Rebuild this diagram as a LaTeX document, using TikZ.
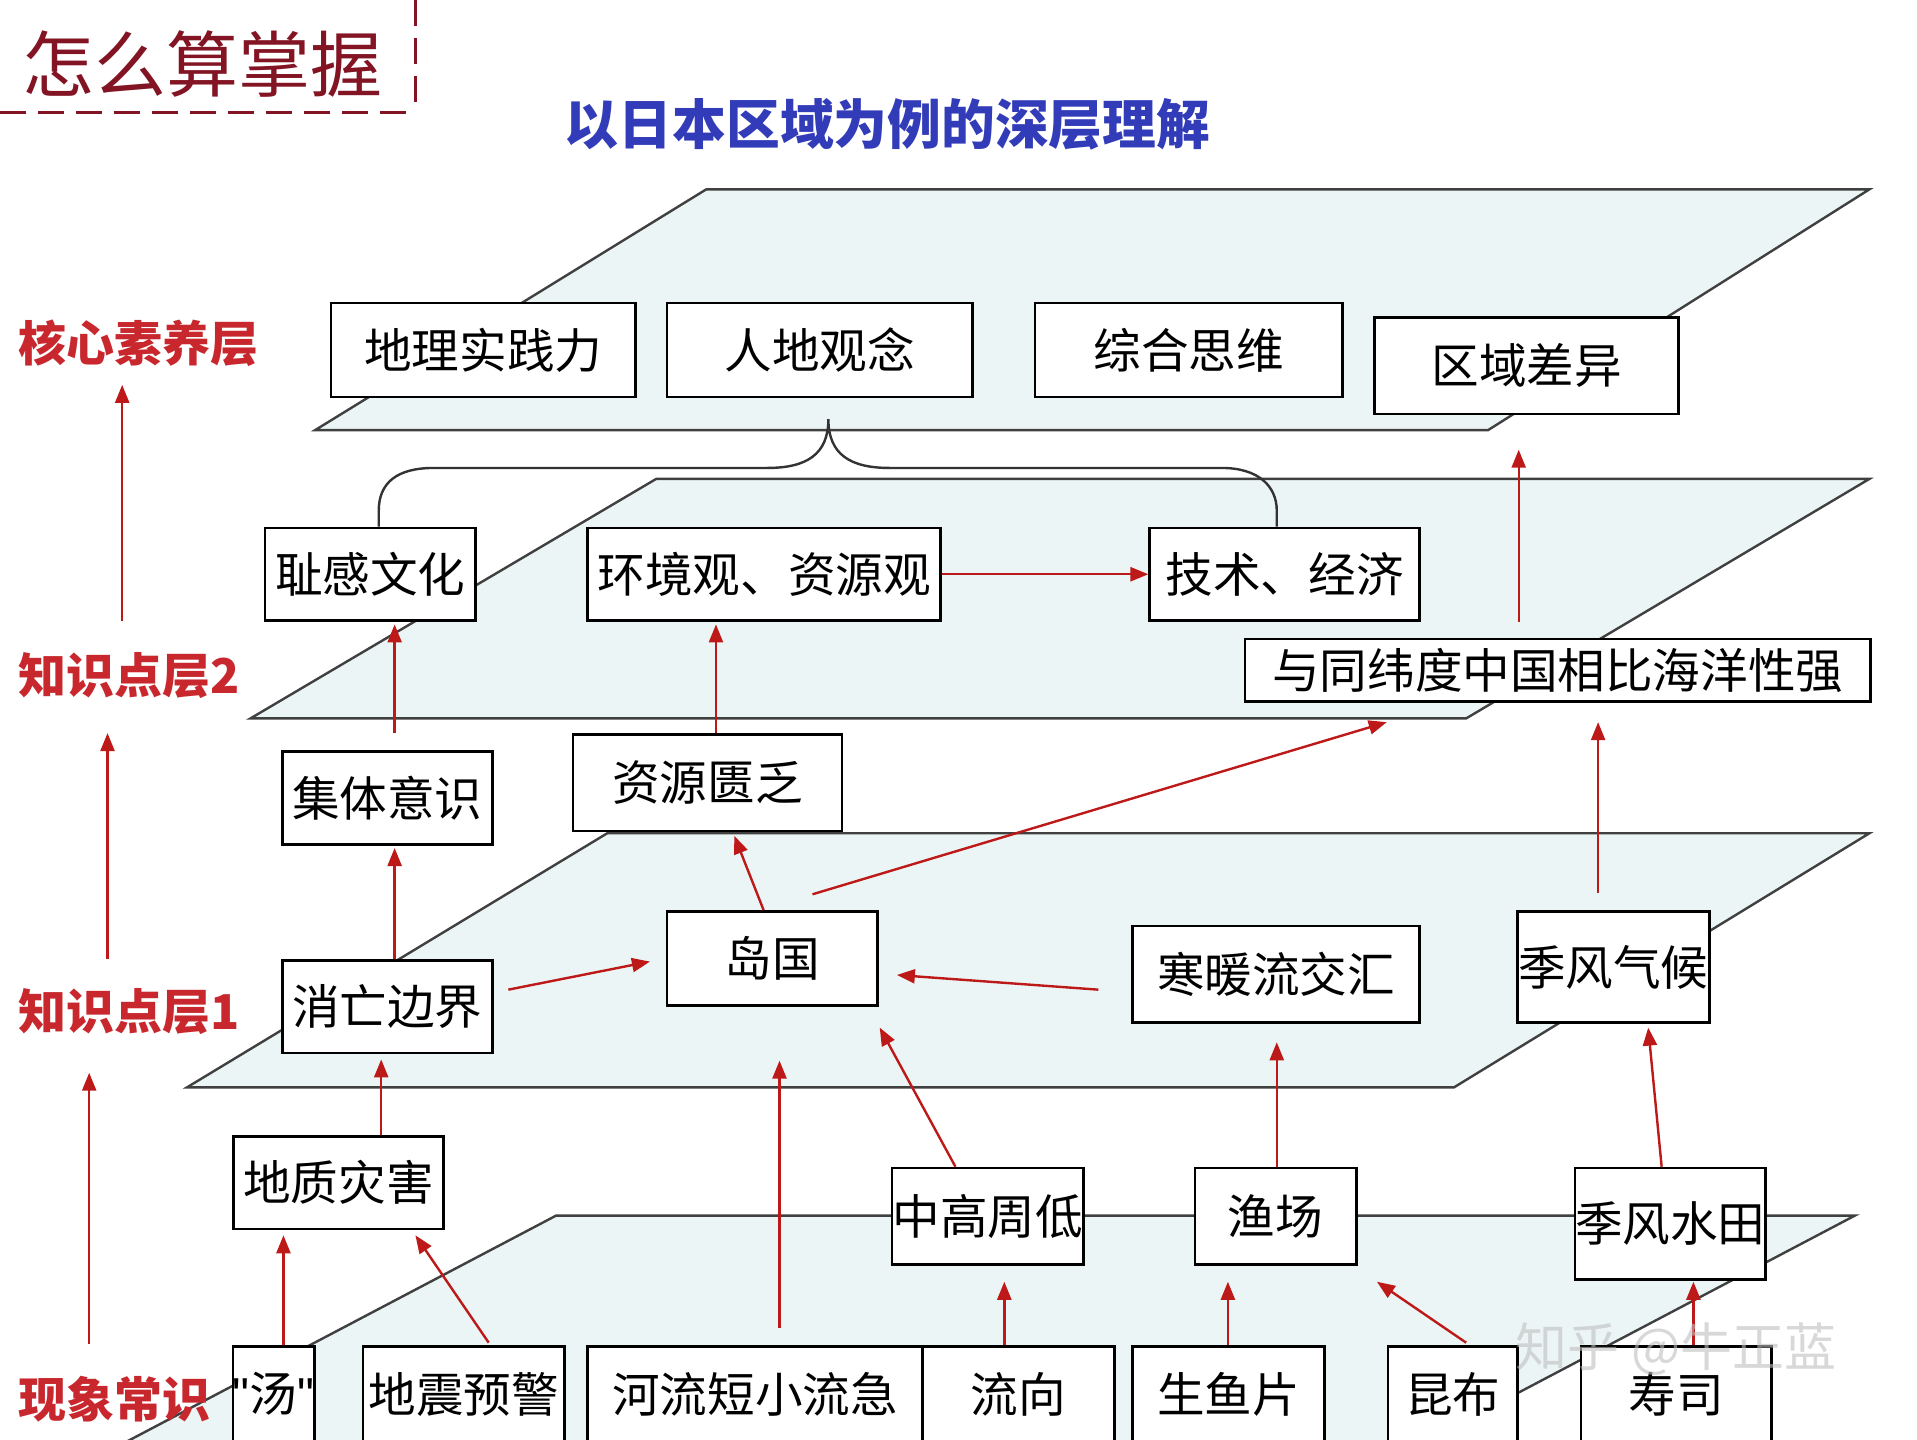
\documentclass[tikz,border=0pt]{standalone}
\usepackage{fontspec}
\setmainfont{Noto Sans CJK SC}
\newfontfamily\qf{Liberation Sans}[Ligatures=TeXOff]
\usetikzlibrary{arrows.meta,calc}
\definecolor{planefill}{RGB}{236,245,245}
\definecolor{arrred}{RGB}{190,25,25}
\definecolor{lblred}{RGB}{200,40,45}
\definecolor{titred}{RGB}{130,20,35}
\definecolor{subblue}{RGB}{50,60,185}
\begin{document}
\begin{tikzpicture}[x=0.611pt,y=-0.611pt,
  box/.style={draw=black, line width=1.3pt, fill=white, inner sep=0pt, text=black,
    font=\fontsize{23.8}{26}\selectfont},
  bx/.style 2 args={minimum width=#1*0.611pt, minimum height=#2*0.611pt},
  arr/.style={draw=arrred, line width=1.2pt, -{Triangle[length=9pt,width=7pt]}},
  plane/.style={fill=planefill, draw=black!75, line width=1.2pt, line join=miter},
  lbl/.style={text=lblred, font=\fontsize{24}{26}\selectfont\bfseries, anchor=west, inner sep=0pt},
  brace/.style={draw=black!80, line width=1.2pt}
]
\useasboundingbox (0,0) rectangle (1569,1178);
\fill[white] (0,0) rectangle (1569,1178);

% planes
\draw[plane] (455,995) -- (1518,995) -- (1043,1245) -- (-20,1245) -- cycle;
\draw[plane] (497,682) -- (1530,682) -- (1190,890) -- (153,890) -- cycle;
\draw[plane] (537,392) -- (1530,392) -- (1200,588) -- (205,588) -- cycle;
\draw[plane] (578,155) -- (1530,155) -- (1218,352) -- (258,352) -- cycle;

% title
\node[anchor=west, inner sep=0pt, text=titred, font=\fontsize{36}{40}\selectfont] (title) at (18,52) {怎么算掌握};
\draw[titred, line width=1.8pt, dash pattern=on 13pt off 6pt] (0,92) -- (340,92);
\draw[titred, line width=1.8pt, dash pattern=on 13pt off 6pt] (340,0) -- (340,88);
\node[anchor=west, inner sep=0pt, text=subblue, font=\fontsize{26.9}{30}\selectfont\bfseries] (sub) at (462,102) {以日本区域为例的深层理解};

% left labels
\node[lbl] (l1) at (15,281) {核心素养层};
\node[lbl] (l2) at (15,553) {知识点层2};
\node[lbl] (l3) at (15,828) {知识点层1};
\node[lbl] (l4) at (15,1145) {现象常识};
\draw[arr] ($(l2.west)+(85,-45)$) -- ($(l1.west)+(85,34)$);
\draw[arr] ($(l3.west)+(73,-43)$) -- ($(l2.west)+(73,47)$);
\draw[arr] ($(l4.west)+(58,-45)$) -- ($(l3.west)+(58,50)$);

% core layer
\node[box, bx={249}{77}] (b_dlsj) at (395.5,286.5) {地理实践力};
\node[box, bx={250}{77}] (b_rdgn) at (671,286.5) {人地观念};
\node[box, bx={252}{77}] (b_zhsw) at (973,286.5) {综合思维};
\node[box, bx={249}{79}] (b_qycy) at (1249.5,299.5) {区域差异};

% knowledge layer 2
\node[box, bx={172}{76}] (b_cgwh) at (303,470) {耻感文化};
\node[box, bx={289}{76}] (b_hjg) at (625.5,470) {环境观、资源观};
\node[box, bx={221}{76}] (b_jsjj) at (1051.5,470) {技术、经济};
\node[box, bx={512}{51}] (b_hyx) at (1275,548.5) {与同纬度中国相比海洋性强};
\node[box, bx={220}{79}] (b_zyfa) at (579,640.5) {资源匮乏};
\node[box, bx={172}{76}] (b_jtys) at (317,653) {集体意识};

% knowledge layer 1
\node[box, bx={172}{76}] (b_xwbj) at (317,824) {消亡边界};
\node[box, bx={172}{77}] (b_dg) at (632,784.5) {岛国};
\node[box, bx={235}{79}] (b_hnl) at (1044.5,797.5) {寒暖流交汇};
\node[box, bx={157}{91}] (b_jfqh) at (1320.5,791.5) {季风气候};

% intermediate
\node[box, bx={172}{76}] (b_dzzh) at (277,968) {地质灾害};
\node[box, bx={157}{79}] (b_zgzd) at (808.5,995.5) {中高周低};
\node[box, bx={132}{79}] (b_yc) at (1044,995.5) {渔场};
\node[box, bx={146}{91}] (b_jfst) at (1367,1001.5) {季风水田};

% phenomena row
\node[box, bx={66}{78}] (b_tang) at (224,1141) {{\qf"}汤{\qf"}};
\node[box, bx={165}{78}] (b_dzyj) at (379.5,1141) {地震预警};
\node[box, bx={274}{78}] (b_hl) at (618,1141) {河流短小流急};
\node[box, bx={157}{78}] (b_lx) at (833.5,1141) {流向};
\node[box, bx={157}{78}] (b_syp) at (1005.5,1141) {生鱼片};
\node[box, bx={106}{78}] (b_kb) at (1189,1141) {昆布};
\node[box, bx={156}{78}] (b_ss) at (1372,1141) {寿司};

% brace
\coordinate (tip) at ($(b_rdgn.south)+(7,17)$);
\draw[brace] ($(b_cgwh.north)+(7,0)$) -- (310,418) .. controls (310,395) and (325,383) .. (355,383)
  -- (628,383) .. controls (660,383) and (678,372) .. (tip)
  .. controls (678,372) and (696,383) .. (728,383) -- (1000,383)
  .. controls (1030,383) and (1045,398) .. (1045,418) -- ($(b_jsjj.north)+(-6.5,0)$);

% arrows
\draw[arr] (b_hjg.east) -- (b_jsjj.west);
\draw[arr] ($(b_hyx.north)+(-32,-13)$) -- ($(b_qycy.south)+(-6.5,28)$);
\draw[arr] ($(b_jtys.north)+(6,-14)$) -- ($(b_cgwh.south)+(20,2)$);
\draw[arr] ($(b_zyfa.north)+(7,0)$) -- ($(b_hjg.south)+(-39.5,2)$);
\draw[arr] ($(b_xwbj.north)+(6,0)$) -- ($(b_jtys.south)+(6,2)$);
\draw[arr] ($(b_dg.north)+(-7,0)$) -- ($(b_zyfa.south)+(22,3)$);
\draw[arr] ($(b_dg.north)+(33,-13)$) -- ($(b_hyx.south)+(-140,16)$);
\draw[arr] ($(b_jfqh.north)+(-12.5,-14)$) -- ($(b_hyx.south)+(33,16)$);
\draw[arr] ($(b_xwbj.east)+(12,-14)$) -- ($(b_dg.west)+(-13,2.5)$);
\draw[arr] ($(b_hnl.west)+(-27,12.5)$) -- ($(b_dg.east)+(15,13.5)$);
\draw[arr] ($(b_dzzh.north)+(35,0)$) -- ($(b_xwbj.south)+(-5,4)$);
\draw[arr] ($(b_tang.north)+(8,0)$) -- ($(b_dzzh.south)+(-45,4)$);
\draw[arr] ($(b_dzyj.north)+(20.5,-2)$) -- ($(b_dzzh.south)+(63,4)$);
\draw[arr] ($(b_hl.north)+(20,-14)$) -- ($(b_dg.south)+(6,44)$);
\draw[arr] ($(b_zgzd.north)+(-26.5,0)$) -- ($(b_dg.south)+(88,17)$);
\draw[arr] ($(b_lx.north)+(-11.5,0)$) -- ($(b_zgzd.south)+(13.5,13)$);
\draw[arr] ($(b_syp.north)+(-0.5,0)$) -- ($(b_yc.south)+(-39,13)$);
\draw[arr] ($(b_kb.north)+(11,-2)$) -- ($(b_yc.south)+(83,13)$);
\draw[arr] ($(b_yc.north)+(1,0)$) -- ($(b_hnl.south)+(0.5,15)$);
\draw[arr] ($(b_jfst.north)+(-7,0)$) -- ($(b_jfqh.south)+(28.5,3)$);
\draw[arr] ($(b_ss.north)+(14,0)$) -- ($(b_jfst.south)+(19,1)$);

% watermark
\node[anchor=west, inner sep=0pt, text=black!25, opacity=0.6, font=\fontsize{26}{28}\selectfont] (wm) at (1240,1104) {知乎 @牛正蓝};
\end{tikzpicture}
\end{document}
